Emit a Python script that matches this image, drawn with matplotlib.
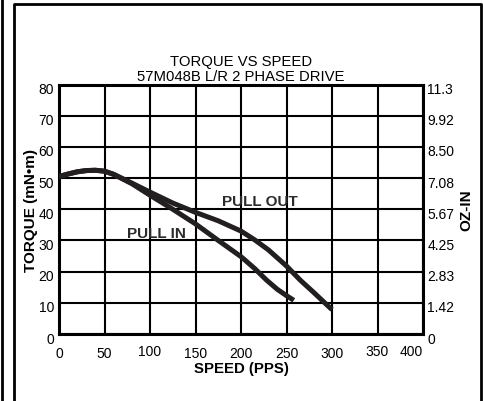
import matplotlib
matplotlib.use("Agg")
import matplotlib.pyplot as plt
from matplotlib.lines import Line2D
from matplotlib.transforms import ScaledTranslation

plt.rcParams["font.family"] = ["Liberation Sans", "DejaVu Sans"]

# pull-in / pull-out torque (mN·m) against step rate (pps)
pull_out_speed = [0, 10, 20, 30, 40, 50, 60, 80, 100, 125, 150, 175, 200, 215, 230, 250, 265, 280, 300]
pull_out_torque = [50.5, 51.3, 52.0, 52.4, 52.5, 52.2, 51.2, 48.4, 45.5, 42.0, 39.0, 36.3, 33.0, 30.2, 27.0, 21.8, 17.3, 13.3, 7.8]

pull_in_speed = [0, 10, 20, 30, 40, 50, 60, 80, 100, 125, 150, 175, 200, 215, 228, 240, 250, 258]
pull_in_torque = [50.5, 51.3, 52.0, 52.4, 52.5, 52.2, 51.2, 48.2, 44.5, 40.0, 35.3, 30.0, 24.8, 21.0, 17.3, 14.3, 12.3, 10.8]

speed_ticks = [0, 50, 100, 150, 200, 250, 300, 350, 400]
torque_ticks = [0, 10, 20, 30, 40, 50, 60, 70, 80]
ozin_labels = ["0", "1.42", "2.83", "4.25", "5.67", "7.08", "8.50", "9.92", "11.3"]

INK = "#231f20"
LABEL_INK = "#2b2b2b"

fig = plt.figure(figsize=(4.83, 4.02), dpi=100)
ax = fig.add_axes([59 / 483, 1 - 335 / 402, (423 - 59) / 483, (335 - 85.5) / 402])

ax.plot(pull_out_speed, pull_out_torque, color=INK, lw=3.6, solid_capstyle="butt", zorder=3)
ax.plot(pull_in_speed, pull_in_torque, color=INK, lw=3.6, solid_capstyle="butt", zorder=3)

ax.set_xlim(0, 400)
ax.set_ylim(0, 80)
ax.set_xticks(speed_ticks)
ax.set_yticks(torque_ticks)
ax.grid(True, color="black", lw=1.5, zorder=1)
ax.set_axisbelow(True)
for sp in ax.spines.values():
    sp.set_linewidth(2.2)
ax.tick_params(length=0, labelsize=10, colors="black")
ax.tick_params(axis="x", pad=9)
ax.tick_params(axis="y", pad=3.5)

# a few of the speed labels sit slightly higher
for lab in ax.get_xticklabels():
    if lab.get_text() in ("100", "350", "400"):
        lab.set_y(0.012)
    if lab.get_text() == "400":
        lab.set_ha("right")

ax2 = ax.twinx()
ax2.set_ylim(0, 80)
ax2.set_yticks(torque_ticks)
ax2.set_yticklabels(ozin_labels)
ax2.tick_params(length=0, labelsize=10, pad=3)
for sp in ax2.spines.values():
    sp.set_visible(False)

# torque labels hang a little below their grid lines
shift = ScaledTranslation(0, -3 / 100, fig.dpi_scale_trans)
for lab in ax.get_yticklabels() + ax2.get_yticklabels():
    lab.set_transform(lab.get_transform() + shift)

ax.set_xlabel("SPEED (PPS)", fontsize=10.8, fontweight="bold", labelpad=0)
ax.set_ylabel("TORQUE (mN\u2022m)", fontsize=11, fontweight="bold", labelpad=0.5)
ax2.set_ylabel("OZ-IN", fontsize=11, fontweight="bold", rotation=90, labelpad=4)

ax.set_title("TORQUE VS SPEED\n57M048B L/R 2 PHASE DRIVE", fontsize=10.7,
             linespacing=1.1, pad=3.5)

ax.text(221, 42.6, "PULL OUT", fontsize=11, fontweight="bold", color=LABEL_INK,
        ha="center", va="center", zorder=4)
ax.text(107, 32.5, "PULL IN", fontsize=11, fontweight="bold", color=LABEL_INK,
        ha="center", va="center", zorder=4)

# outer frame lines
fig.add_artist(Line2D([1.5 / 483, 1.5 / 483], [0, 1], color="black", lw=2))
fig.add_artist(Line2D([13.5 / 483, 13.5 / 483, 481 / 483, 481 / 483],
                      [0, 1 - 4.7 / 402, 1 - 4.7 / 402, 0], color="black", lw=2))

fig.savefig("out.png", dpi=100)
